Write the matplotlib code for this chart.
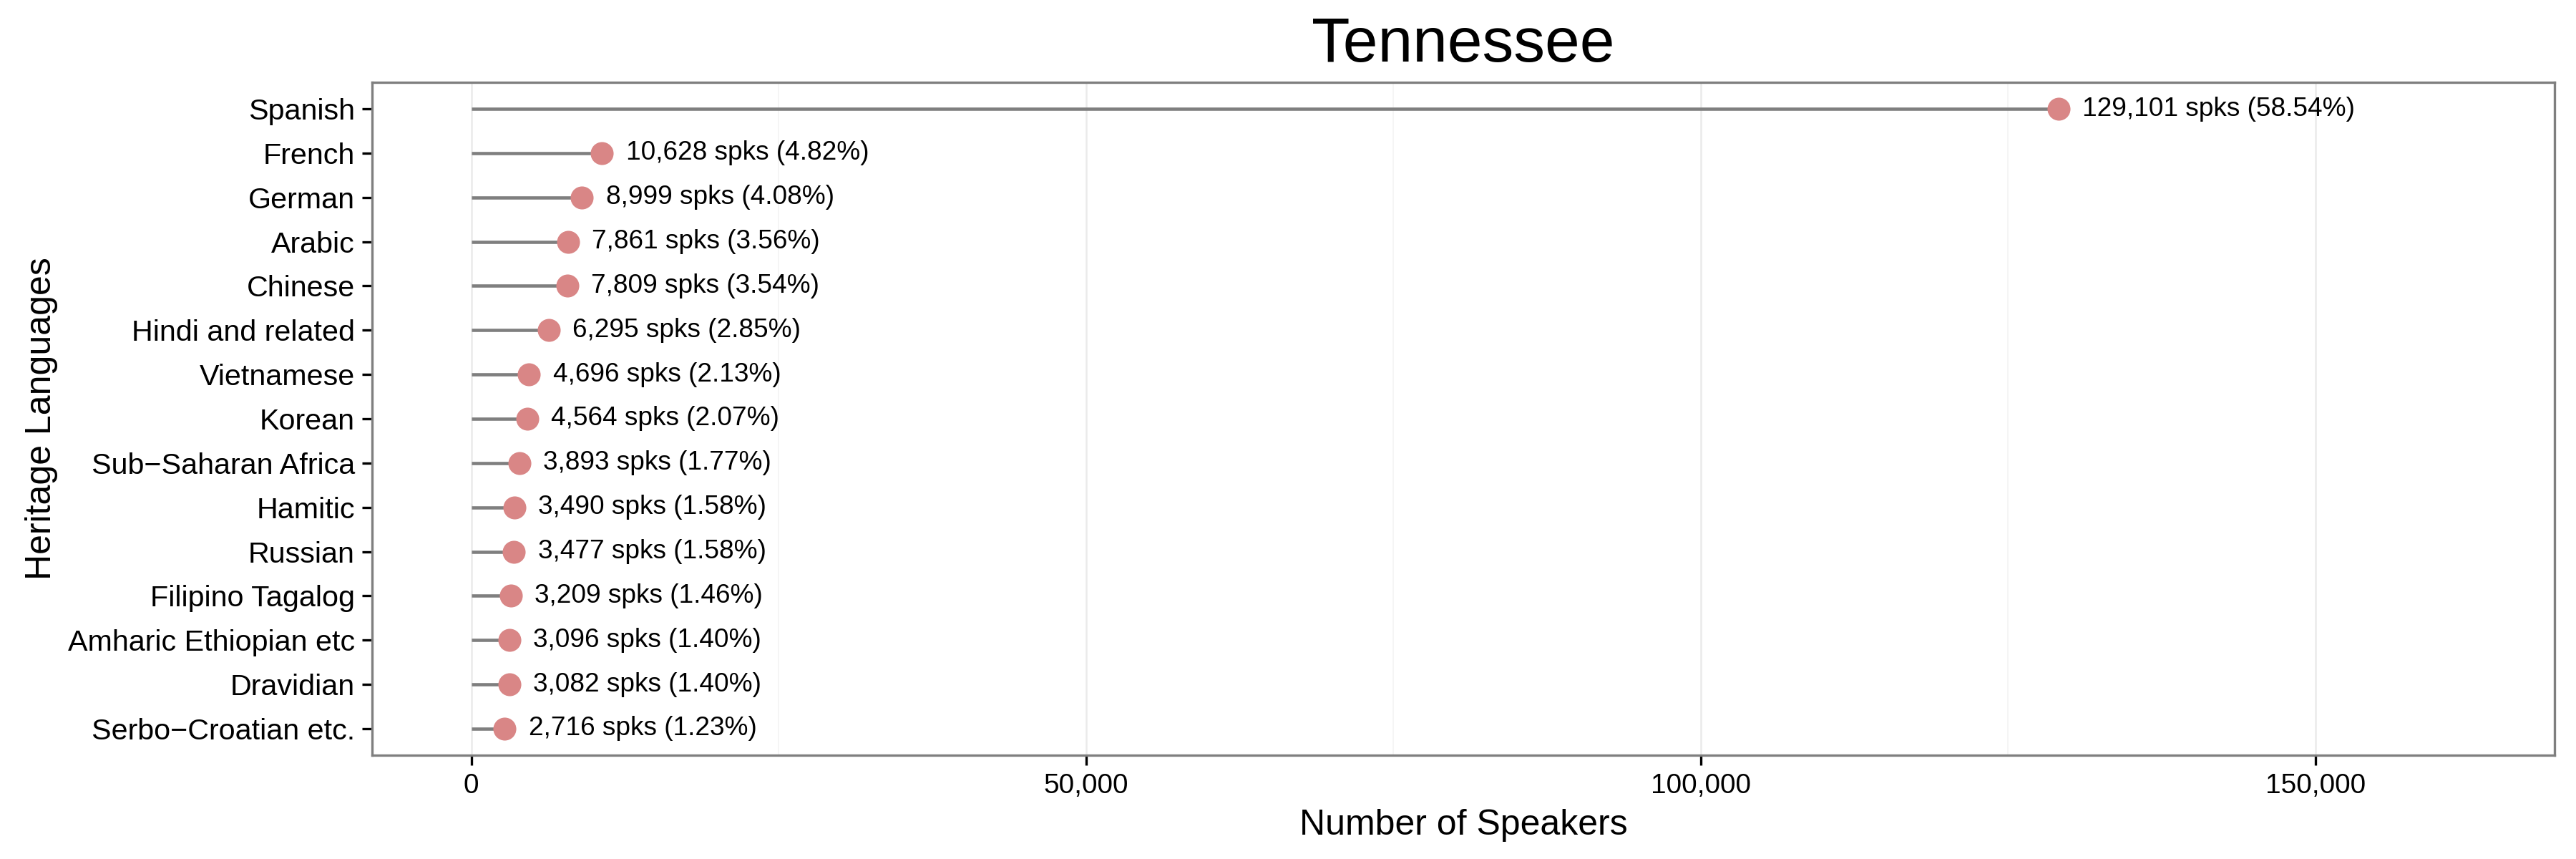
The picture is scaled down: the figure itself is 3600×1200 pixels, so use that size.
import matplotlib
matplotlib.use("Agg")
import matplotlib.pyplot as plt
from matplotlib.ticker import FuncFormatter, MultipleLocator

plt.rcParams['font.family'] = ['Liberation Sans', 'DejaVu Sans']

languages = ["Spanish", "French", "German", "Arabic", "Chinese", "Hindi and related",
             "Vietnamese", "Korean", "Sub\u2212Saharan Africa", "Hamitic", "Russian",
             "Filipino Tagalog", "Amharic Ethiopian etc", "Dravidian", "Serbo\u2212Croatian etc."]
speakers = [129101, 10628, 8999, 7861, 7809, 6295, 4696, 4564, 3893, 3490, 3477,
            3209, 3096, 3082, 2716]
percents = [58.54, 4.82, 4.08, 3.56, 3.54, 2.85, 2.13, 2.07, 1.77, 1.58, 1.58,
            1.46, 1.40, 1.40, 1.23]
x_ticks = [0, 50000, 100000, 150000]

W, H = 3600, 1200
fig = plt.figure(figsize=(12, 4), dpi=300)
p_left, p_right, p_top, p_bottom = 520 / W, 3570 / W, 1 - 115 / H, 1 - 1055 / H
ax = fig.add_axes([p_left, p_bottom, p_right - p_left, p_top - p_bottom])

n = len(languages)
ypos = [n - 1 - i for i in range(n)]

line_col = "#7f7f7f"
pt_col = "#d98686"

for y, v in zip(ypos, speakers):
    ax.plot([0, v], [y, y], color=line_col, lw=1.1, solid_capstyle='butt', zorder=2)
ax.scatter(speakers, ypos, s=7.7**2, color=pt_col, zorder=3, linewidths=0)
for y, v, p in zip(ypos, speakers, percents):
    ax.annotate(f"{v:,} spks ({p:.2f}%)", (v, y), xytext=(8, 0), textcoords='offset points',
                ha='left', va='center', fontsize=8.9, color='black', zorder=4)

upper = max(speakers) * 1.25
pad = upper * 0.05
ax.set_xlim(-pad, upper + pad)
ax.set_ylim(-0.6, n - 1 + 0.6)

ax.set_xticks(x_ticks)
ax.xaxis.set_minor_locator(MultipleLocator(25000))
ax.xaxis.set_major_formatter(FuncFormatter(lambda v, _: f"{int(v):,}"))
ax.set_yticks(ypos)
ax.set_yticklabels(languages)

ax.grid(axis='x', which='major', color='#ebebeb', lw=0.6, zorder=0)
ax.grid(axis='x', which='minor', color='#f4f4f4', lw=0.4, zorder=0)
ax.set_axisbelow(True)

for s in ax.spines.values():
    s.set_color('#7f7f7f')
    s.set_linewidth(0.8)

ax.tick_params(axis='both', which='major', length=3.4, width=0.8, color='black',
               labelcolor='black')
ax.tick_params(axis='y', pad=2.4, labelsize=9.9)
ax.tick_params(axis='x', pad=2.5, labelsize=9.3)
ax.tick_params(axis='x', which='minor', length=0)

cx = (p_left + p_right) / 2
fig.text(cx, 1 - 86 / H, "Tennessee", fontsize=21, ha='center', va='baseline')
fig.text(cx, 1 - 1166 / H, "Number of Speakers", fontsize=12, ha='center', va='baseline')
fig.text(58 / W, (p_top + p_bottom) / 2, "Heritage Languages", fontsize=12,
         rotation=90, ha='center', va='center')

fig.savefig("out.png", dpi=300, facecolor='white')
